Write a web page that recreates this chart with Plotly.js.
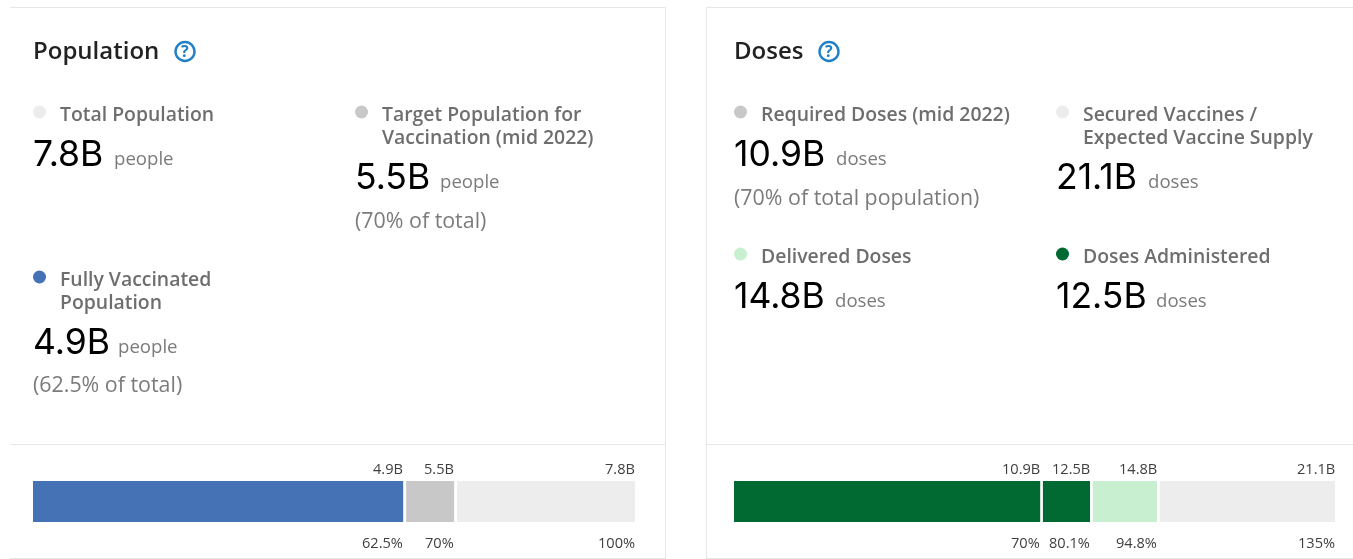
<!DOCTYPE html>
<html>
<head>
<meta charset="utf-8">
<script src="https://cdn.plot.ly/plotly-3.0.1.min.js"></script>
<style>html,body{margin:0;padding:0;background:#fff;overflow:hidden}#chart{width:1353px;height:559px;filter:blur(0.25px)}</style>
</head>
<body>
<div id="chart"></div>
<script>
const W = 1353, H = 559;

const popEnds = [4.8, 5.46, 7.8];
const popColors = ['#4472b4', '#c8c8c8', '#ededed'];
const popTop = ['4.9B', '5.5B', '7.8B'];
const popBottom = ['62.5%', '70%', '100%'];

const doseEnds = [10.75, 12.5, 14.85, 21.1];
const doseColors = ['#006a32', '#006a32', '#c8efcf', '#ededed'];
const doseTop = ['10.9B', '12.5B', '14.8B', '21.1B'];
const doseBottom = ['70%', '80.1%', '94.8%', '135%'];

const px = v => v / W;
const py = v => 1 - v / H;
const GREY = '#7b7b7b', LABELC = '#6e6e6e', DARK = '#222';
const OS = '"Open Sans", sans-serif';

const traces = [];
const shapes = [];
const annotations = [];

function addBar(ends, colors, top, bottom, xa, ya) {
  ends.forEach((end, i) => {
    const start = i ? ends[i - 1] : 0;
    traces.push({type: 'bar', orientation: 'h', x: [end - start], y: [0], xaxis: xa, yaxis: ya,
      width: 1, marker: {color: colors[i], line: {width: 0}}, hoverinfo: 'none', showlegend: false});
    if (i < ends.length - 1) {
      shapes.push({type: 'rect', xref: xa, yref: 'paper', xsizemode: 'pixel', xanchor: end,
        x0: 0, x1: 2.7, y0: py(523), y1: py(480), fillcolor: '#fff', line: {width: 0}});
    }
    const lab = (t, y) => annotations.push({xref: xa, yref: 'paper', x: end, y: py(y), text: t,
      xanchor: 'right', yanchor: 'middle', showarrow: false, borderpad: 0, borderwidth: 0,
      font: {family: OS, size: 14.6, color: '#3f3f3f'}});
    lab(top[i], 467.5);
    lab(bottom[i], 541.5);
  });
}
addBar(popEnds, popColors, popTop, popBottom, 'x', 'y');
addBar(doseEnds, doseColors, doseTop, doseBottom, 'x2', 'y2');

function text(t, x, y, size, color, family, extra) {
  annotations.push(Object.assign({xref: 'paper', yref: 'paper', x: px(x), y: py(y), text: t,
    xanchor: 'left', yanchor: 'middle', showarrow: false, align: 'left', borderpad: 0, borderwidth: 0,
    font: {family: family || OS, size: size, color: color}}, extra || {}));
}
function dot(x, y, color, r) {
  r = r || 6.5;
  shapes.push({type: 'circle', xref: 'paper', yref: 'paper', x0: px(x - r), x1: px(x + r),
    y0: py(y + r), y1: py(y - r), fillcolor: color, line: {width: 0}});
}
function line(x0, y0, x1, y1, c) {
  shapes.push({type: 'line', xref: 'paper', yref: 'paper', x0: px(x0), x1: px(x1), y0: py(y0), y1: py(y1),
    line: {color: c || '#e6e6e6', width: 1}});
}
line(10, 7.5, 665, 7.5); line(665.5, 7, 665.5, 559); line(10, 444.5, 665, 444.5); line(10, 558.5, 665, 558.5);
line(706, 7.5, 1353, 7.5); line(706.5, 7, 706.5, 559); line(706, 444.5, 1353, 444.5); line(706, 558.5, 1353, 558.5);

function head(t, x, hx) {
  text(t, x, 49.5, 24, DARK, OS, {font: {family: OS, size: 24, color: DARK, weight: 600}});
  shapes.push({type: 'circle', xref: 'paper', yref: 'paper', x0: px(hx - 9.5), x1: px(hx + 9.5),
    y0: py(51.5 + 9.5), y1: py(51.5 - 9.5), fillcolor: '#fff', line: {color: '#1f80c8', width: 2.4}});
  annotations.push({xref: 'paper', yref: 'paper', x: px(hx), y: py(51.5), text: '<b>?</b>', xanchor: 'center', yanchor: 'middle',
    showarrow: false, font: {family: OS, size: 16, color: '#1f80c8'}});
}
head('Population', 33, 185);
head('Doses', 734, 829);

const LAB = {family: OS, size: 19.4, color: LABELC, weight: 600};
function item(x, y, color, labels, big, unit, unitX, bigY, note, noteY) {
  dot(x + 6.5, y - 2, color);
  labels.forEach((l, i) => text(l, x + 26.7, y - 0.7 + i * 23, 19.4, LABELC, OS, {font: LAB}));
  text(big, x, bigY - 0.7, 35.5, '#000', 'Inter, sans-serif');
  text(unit, unitX, bigY + 3.3, 18.6, GREY);
  if (note) text(note, x, noteY, 21.4, GREY);
}
item(33, 114, '#ececec', ['Total Population'], '7.8B', 'people', 114, 154);
item(355, 114, '#c8c8c8', ['Target Population for', 'Vaccination (mid 2022)'], '5.5B', 'people', 440, 177, '(70% of total)', 219);
item(33, 279, '#4472b4', ['Fully Vaccinated', 'Population'], '4.9B', 'people', 118, 342, '(62.5% of total)', 384);
item(734, 114, '#c8c8c8', ['Required Doses (mid 2022)'], '10.9B', 'doses', 836, 154, '(70% of total population)', 196);
item(1056, 114, '#ececec', ['Secured Vaccines /', 'Expected Vaccine Supply'], '21.1B', 'doses', 1148, 177);
item(734, 256, '#c8efcf', ['Delivered Doses'], '14.8B', 'doses', 835, 296);
item(1056, 256, '#006a32', ['Doses Administered'], '12.5B', 'doses', 1156, 296);

const hidden = {visible: false, fixedrange: true};
const layout = {
  width: W, height: H, margin: {l: 0, r: 0, t: 0, b: 0}, paper_bgcolor: '#fff', plot_bgcolor: 'rgba(0,0,0,0)',
  barmode: 'stack', showlegend: false, bargap: 0,
  xaxis: Object.assign({domain: [px(33), px(635)], range: [0, 7.8], anchor: 'y'}, hidden),
  yaxis: Object.assign({domain: [py(522), py(481)], range: [-0.5, 0.5], anchor: 'x'}, hidden),
  xaxis2: Object.assign({domain: [px(734), px(1335)], range: [0, 21.1], anchor: 'y2'}, hidden),
  yaxis2: Object.assign({domain: [py(522), py(481)], range: [-0.5, 0.5], anchor: 'x2'}, hidden),
  shapes, annotations
};
Plotly.newPlot('chart', traces, layout, {displayModeBar: false, responsive: false});
</script>
</body>
</html>
